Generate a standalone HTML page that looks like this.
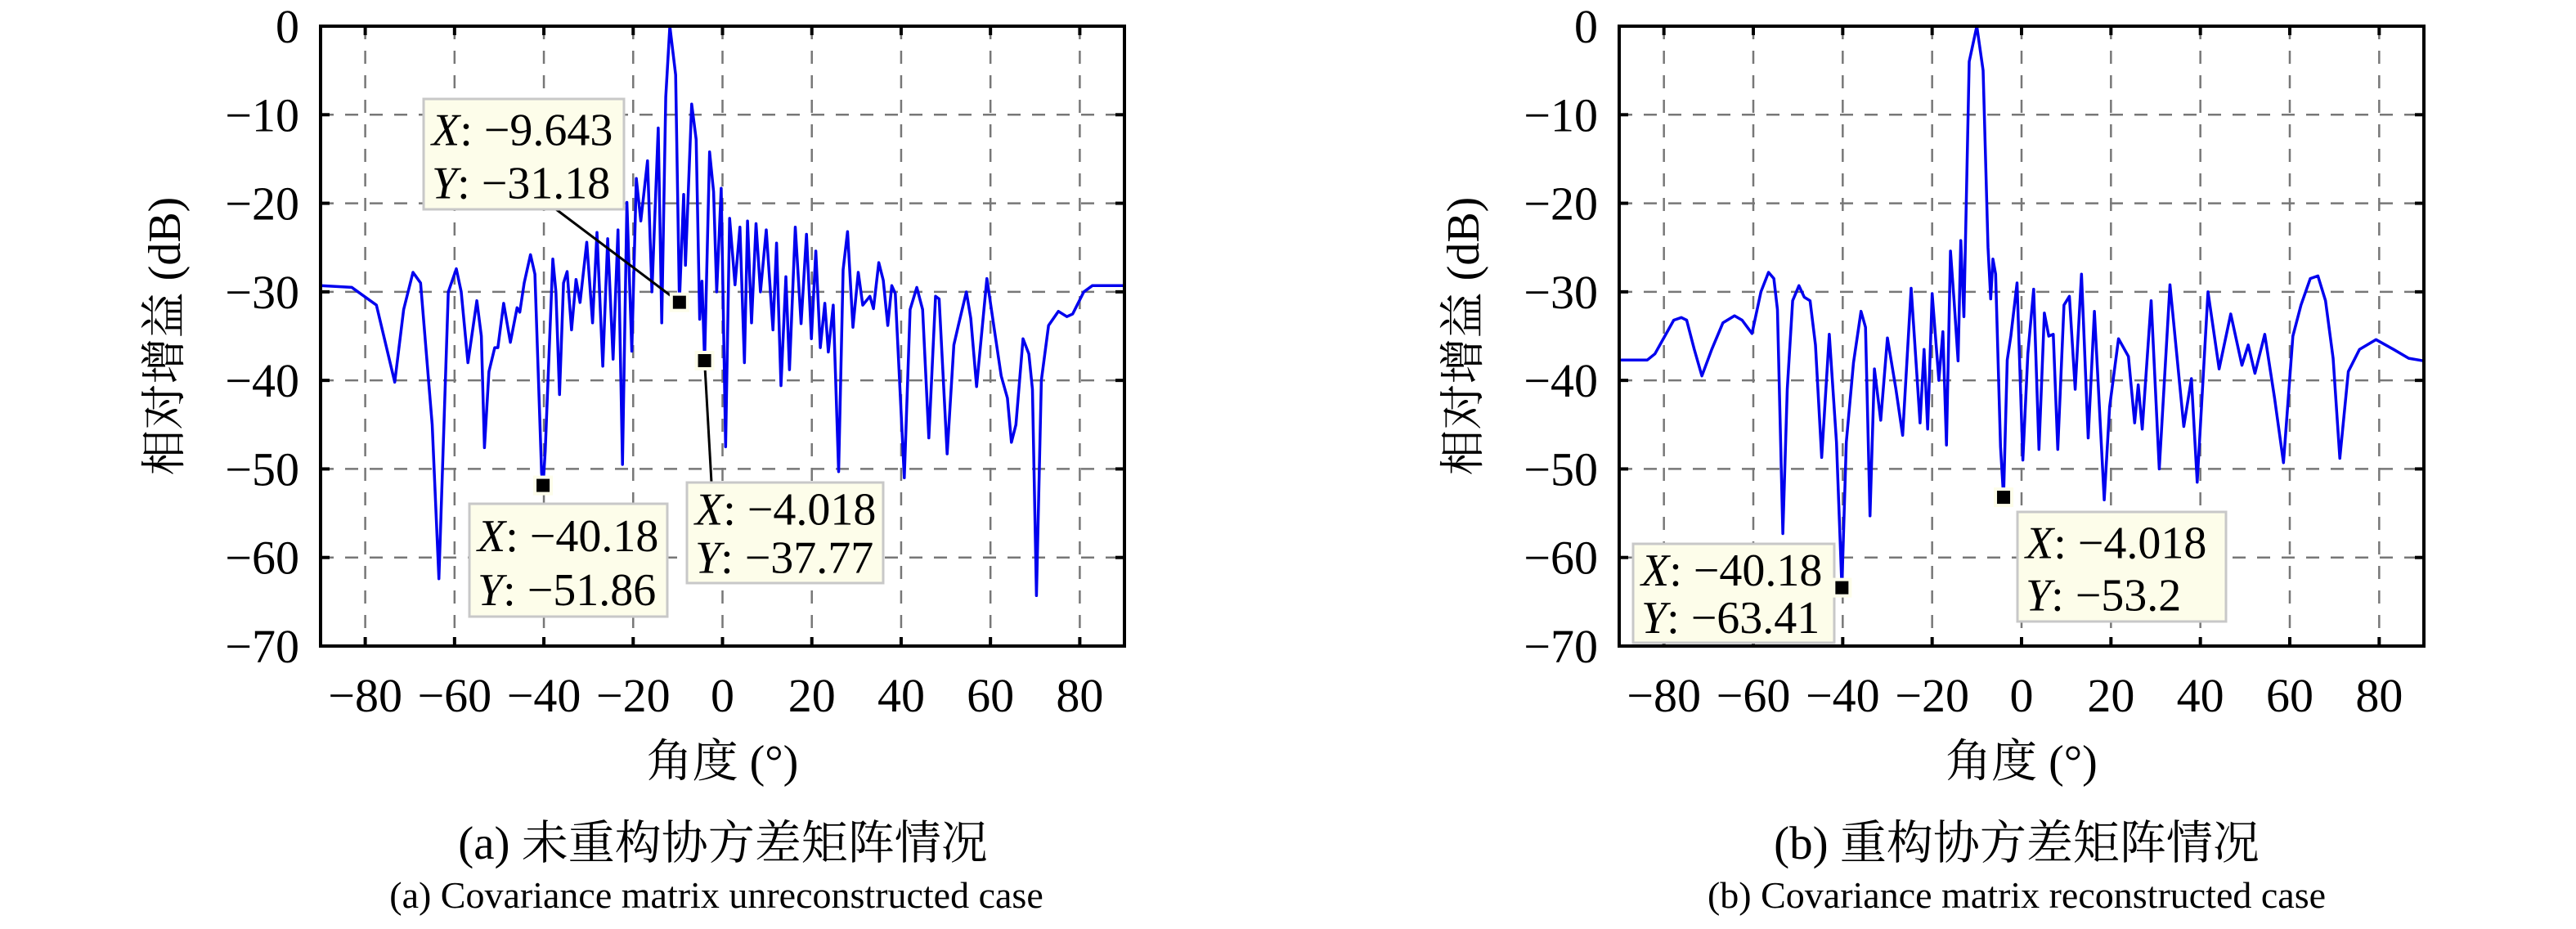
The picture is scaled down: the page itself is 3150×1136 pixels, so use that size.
<!DOCTYPE html>
<html><head><meta charset="utf-8">
<style>
html,body{margin:0;padding:0;background:#fff;width:3150px;height:1136px;overflow:hidden}
svg{display:block}
text{font-family:"Liberation Serif","Noto Serif CJK SC",serif;fill:#000}
</style></head>
<body>
<svg id="fig" width="3150" height="1136" viewBox="0 0 3150 1136" xmlns="http://www.w3.org/2000/svg">
  <text x="884" y="1050" font-size="57" text-anchor="middle">(a) 未重构协方差矩阵情况</text>
  <text x="876" y="1110" font-size="46" text-anchor="middle">(a) Covariance matrix unreconstructed case</text>
  <text x="2466" y="1050" font-size="57" text-anchor="middle">(b) 重构协方差矩阵情况</text>
  <text x="2466" y="1110" font-size="46" text-anchor="middle">(b) Covariance matrix reconstructed case</text>
</svg>
<script>
const xTicks=[-80,-60,-40,-20,0,20,40,60,80];
const yTicks=[0,-10,-20,-30,-40,-50,-60,-70];
const angleA=[-90,-83,-77.5,-73.4,-71.4,-69.3,-67.6,-65,-63.5,-61.4,-59.6,-58.5,-57,-55,-54,-53.3,-52.3,-51,-50.3,-49,-47.5,-46,-45.4,-44.4,-43,-42,-40.5,-40.18,-39.7,-38,-37.3,-36.5,-35.6,-34.8,-33.8,-32.8,-31.9,-30.4,-29.1,-28.1,-26.8,-25.7,-24.5,-23.4,-22.4,-21.4,-20.3,-19.3,-18.3,-16.8,-15.8,-14.4,-13.6,-12.7,-11.8,-10.5,-9.643,-8.7,-8.3,-6.9,-5.9,-5.1,-4.6,-4.018,-2.9,-2,-1.3,-0.3,0.7,1.6,2.8,3.9,4.9,5.6,6.5,7.5,8.5,9.8,11.3,12.1,13.1,14.2,15,16.3,17.6,18.8,19.9,20.9,21.9,22.9,23.7,24.8,26,27,28,29.2,30.4,31.4,33,33.8,35,36,37,37.9,38.7,40.7,42,43.5,44.8,46.2,47.7,48.5,50.3,51.8,52.9,54.6,55.6,56.9,59.2,60.8,62.4,63.8,64.7,65.7,67.3,68.6,69.4,70.3,71.4,73,75.2,77.1,78.4,80.9,82.8,84.5,90];
const gainA=[-29.3,-29.5,-31.5,-40.2,-32,-27.8,-29,-45,-62.4,-30,-27.4,-30,-38,-31,-35,-47.6,-39,-36.3,-36.3,-31.3,-35.7,-31.8,-32.3,-29,-25.8,-28,-50.5,-51.86,-48,-26.3,-30,-41.6,-29,-27.7,-34.3,-28.6,-31.2,-24.4,-33.5,-23.3,-38.4,-24,-37.6,-23,-49.5,-19.9,-36.7,-17.2,-22,-15.2,-30,-11.5,-33.5,-8,0,-5.5,-31.18,-19,-27,-8.8,-12.8,-33.1,-28.8,-37.77,-14.2,-18.7,-30,-18.3,-47.5,-21.7,-29.2,-22.7,-38,-22,-33.5,-22.3,-30,-23,-34.3,-24.5,-40.6,-28.3,-38.8,-22.7,-33.6,-23.5,-35.3,-25.4,-36.3,-31.3,-36.8,-31.5,-50.3,-27.5,-23.2,-34,-27.8,-31.5,-30.5,-31.9,-26.7,-28.7,-33.8,-29.3,-30.2,-51,-32,-29.5,-32,-46.5,-30.5,-30.8,-48.3,-36,-33.6,-30,-33,-40.7,-28.5,-34,-39.5,-42,-47,-45,-35.3,-37,-41,-64.3,-40,-33.8,-32.2,-32.8,-32.5,-30,-29.3,-29.3,-29.3];
const angleB=[-90,-83.7,-82,-79.8,-77.8,-76.1,-74.9,-73.2,-71.5,-69.3,-66.8,-64.2,-62.5,-60.3,-58.3,-56.6,-55.4,-54.6,-53.4,-52.4,-51.2,-49.8,-48.6,-47.3,-46.1,-44.7,-43,-41.4,-40.18,-39.2,-37.6,-35.9,-34.9,-33.9,-32.9,-31.5,-30,-28.1,-26.6,-24.7,-22.7,-21.8,-21,-20,-18.5,-17.6,-16.8,-15.9,-15.1,-14.2,-13.6,-12.9,-11.7,-10,-8.6,-7.5,-6.9,-6.4,-5.8,-4.7,-4.018,-3.2,-2.4,-1,0.3,1.4,2.7,3.9,5.1,6.1,7.1,8.1,9.5,10.7,12,13.4,14.9,16.3,18.5,19.7,21.7,23.9,25.3,26.1,27,29,30.8,33.2,36.3,38,39.3,41.7,44.2,46.8,49.3,50.7,52.2,54.4,56.6,58.6,60.7,62.5,64.6,66.3,68,69.7,71.2,73.1,75.6,79.3,83.2,86.6,90];
const gainB=[-37.7,-37.7,-37,-35,-33.2,-32.9,-33.2,-36.5,-39.5,-36.5,-33.5,-32.7,-33.2,-34.7,-30,-27.8,-28.5,-32,-57.3,-41,-31,-29.3,-30.6,-31,-36,-48.7,-34.8,-47,-63.41,-47,-38,-32.2,-34,-55.3,-38.7,-44.5,-35.2,-41,-46.2,-29.6,-44.8,-36.5,-45.5,-30.2,-40,-34.5,-47.3,-25.4,-31,-37.8,-24.2,-32.8,-4,0,-5,-25,-30.8,-26.3,-28,-47.5,-53.2,-37.7,-35,-29,-49,-37,-29.7,-47.8,-32.4,-35,-34.8,-47.8,-31.5,-30.5,-41,-28,-46.5,-32.2,-53.5,-43,-35.3,-37.3,-44.8,-40.5,-45.5,-31,-50,-29.2,-45.2,-39.8,-51.5,-30,-38.7,-32.5,-38.3,-36,-39.2,-34.8,-42,-49.3,-35,-31.5,-28.5,-28.2,-31,-37.5,-48.8,-39,-36.5,-35.4,-36.5,-37.5,-37.8];
const tipAX=[-9.643,-40.18,-4.018];
const tipAY=[-31.18,-51.86,-37.77];
const tipBX=[-40.18,-4.018];
const tipBY=[-63.41,-53.2];

const NS='http://www.w3.org/2000/svg';
const fig=document.getElementById('fig');
function mk(tag,attrs,parent){const e=document.createElementNS(NS,tag);for(const k in attrs)e.setAttribute(k,attrs[k]);(parent||fig).appendChild(e);return e;}

function drawPanel(id,L,R,T,B,angles,gains,tipX,tipY,boxes){
  const sx=a=>L+(a+90)/180*(R-L);
  const sy=v=>T+(-v)/70*(B-T);
  const g=mk('g',{});
  
  
  xTicks.forEach(t=>{const l=mk('line',{x1:sx(t),x2:sx(t),y1:T,y2:B,stroke:'#777','stroke-width':2.5,'stroke-dasharray':'16,14'},g);
    
    });
  yTicks.slice(1,-1).forEach(t=>{const l=mk('line',{x1:L,x2:R,y1:sy(t),y2:sy(t),stroke:'#777','stroke-width':2.5,'stroke-dasharray':'16,14'},g);
    
    });
  const d=angles.map((a,i)=>(i?'L':'M')+sx(a).toFixed(1)+','+sy(gains[i]).toFixed(1)).join(' ');
  const p=mk('path',{d:d,fill:'none',stroke:'#0000ee','stroke-width':3.5,'stroke-linejoin':'round'},g);
  
  
  const r=mk('rect',{x:L,y:T,width:R-L,height:B-T,fill:'none',stroke:'#000','stroke-width':4},g);
  
  
  xTicks.forEach(t=>{
    mk('line',{x1:sx(t),x2:sx(t),y1:B,y2:B-11,stroke:'#000','stroke-width':4},g);
    mk('line',{x1:sx(t),x2:sx(t),y1:T,y2:T+11,stroke:'#000','stroke-width':4},g);
    const tx=mk('text',{x:sx(t),y:870,'font-size':58,'text-anchor':'middle'},g);
    tx.textContent=(t<0?'\u2212':'')+Math.abs(t);
    
    
  });
  yTicks.forEach(t=>{
    mk('line',{x1:L,x2:L+11,y1:sy(t),y2:sy(t),stroke:'#000','stroke-width':4},g);
    mk('line',{x1:R,x2:R-11,y1:sy(t),y2:sy(t),stroke:'#000','stroke-width':4},g);
    const tx=mk('text',{x:L-26,y:sy(t)+20,'font-size':58,'text-anchor':'end'},g);
    tx.textContent=(t<0?'\u2212':'')+Math.abs(t);
    
    
  });
  const xl=mk('text',{x:(L+R)/2,y:950,'font-size':56,'text-anchor':'middle'},g);
  xl.textContent='角度 (°)';
  
  
  const yl=mk('text',{x:0,y:0,'font-size':56,'text-anchor':'middle',transform:'translate('+(L-172)+','+((T+B)/2)+') rotate(-90)'},g);
  yl.textContent='相对增益 (dB)';
  
  
  tipX.forEach((tx0,i)=>{
    const b=boxes[i];
    const mx=sx(tx0), my=sy(tipY[i]);
    const tg=mk('g',{},g);
    
    
    if(b.line){mk('line',{x1:b.line[0],y1:b.line[1],x2:mx,y2:my,stroke:'#000','stroke-width':3},tg);}
    mk('rect',{x:b.x,y:b.y,width:b.w,height:b.h,fill:'#fdfdea',stroke:'#c8c8c8','stroke-width':3},tg);
    const t1=mk('text',{x:b.x+10,y:b.y+b.h*0.42,'font-size':56},tg);
    t1.innerHTML='<tspan font-style="italic">X</tspan>: \u2212'+Math.abs(tx0);
    const t2=mk('text',{x:b.x+10,y:b.y+b.h*0.9,'font-size':56},tg);
    t2.innerHTML='<tspan font-style="italic">Y</tspan>: \u2212'+Math.abs(tipY[i]);
    mk('rect',{x:mx-12,y:my-12,width:24,height:24,fill:'#fdfdea'},tg);
    mk('rect',{x:mx-8,y:my-8,width:16,height:16,fill:'#000'},tg);
  });
}
drawPanel('a',392,1375,32,790,angleA,gainA,tipAX,tipAY,[
  {x:518,y:121,w:245,h:135,line:[680,256]},
  {x:574,y:616,w:242,h:138},
  {x:840,y:590,w:240,h:123,line:[870,590]}
]);
drawPanel('b',1980,2964,32,790,angleB,gainB,tipBX,tipBY,[
  {x:1997,y:665,w:246,h:121},
  {x:2467,y:626,w:255,h:134}
]);
</script>
</body></html>
